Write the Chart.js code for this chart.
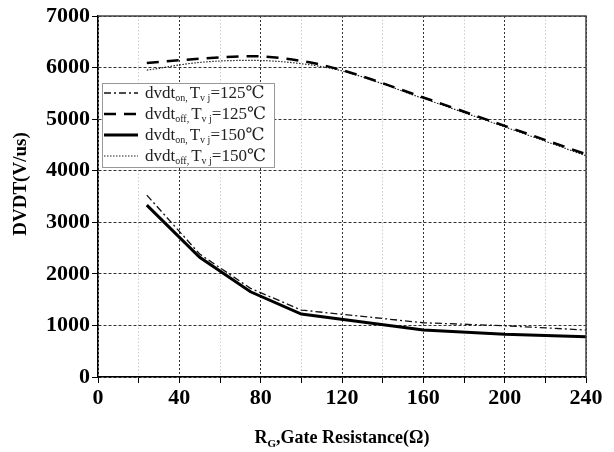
<!DOCTYPE html>
<html>
<head>
<meta charset="utf-8">
<script src="https://cdn.jsdelivr.net/npm/chart.js@4"></script>
<style>
  html, body { margin: 0; padding: 0; background: #fff; }
  #wrap { width: 614px; height: 452px; }
</style>
</head>
<body>
<div id="wrap"><canvas id="chart" width="614" height="452"></canvas></div>
<script>
// Gate resistance (ohm)
const rgTop = [24, 50, 75, 100, 120, 160, 200, 240];
const rgBottom = [24, 50, 75, 100, 160, 200, 240];

// dv/dt values (V/us)
const dvdtOff125 = [6090, 6170, 6220, 6130, 5950, 5420, 4870, 4320];
const dvdtOff150 = [5950, 6100, 6140, 6075, 5935, 5400, 4850, 4290];
const dvdtOn125 = [3527, 2384, 1719, 1298, 1052, 994, 911];
const dvdtOn150 = [3333, 2320, 1653, 1221, 911, 827, 781];

const xTicks = [0, 40, 80, 120, 160, 200, 240];
const yTicks = [0, 1000, 2000, 3000, 4000, 5000, 6000, 7000];

const serif = '"Liberation Serif", "DejaVu Serif", serif';

const pts = (xs, ys) => xs.map((x, i) => ({ x: x, y: ys[i] }));

const legendRows = [
    { sub: 'on,', temp: '125', ds: 0 },
    { sub: 'off,', temp: '125', ds: 1 },
    { sub: 'on,', temp: '150', ds: 2 },
    { sub: 'off,', temp: '150', ds: 3 },
];

const extras = {
    id: 'extras',
    afterDraw(chart) {
        const ctx = chart.ctx;
        const a = chart.chartArea;
        ctx.save();
        // top / right frame
        ctx.strokeStyle = '#444';
        ctx.lineWidth = 1.5;
        ctx.beginPath();
        ctx.moveTo(a.left, a.top);
        ctx.lineTo(a.right, a.top);
        ctx.lineTo(a.right, a.bottom);
        ctx.stroke();

        // legend box
        const bx = 102, by = 83, bw = 172, bh = 84;
        ctx.fillStyle = '#fff';
        ctx.fillRect(bx, by, bw, bh);
        ctx.strokeStyle = '#999';
        ctx.lineWidth = 1;
        ctx.strokeRect(bx + 0.5, by + 0.5, bw, bh);

        legendRows.forEach((row, i) => {
            const ds = chart.data.datasets[row.ds];
            const y = by + 10 + i * 21;
            ctx.save();
            ctx.strokeStyle = ds.borderColor;
            ctx.lineWidth = ds.borderWidth;
            ctx.setLineDash(ds.borderDash || []);
            ctx.beginPath();
            ctx.moveTo(bx + 2, y);
            ctx.lineTo(bx + 36, y);
            ctx.stroke();
            ctx.restore();

            ctx.fillStyle = '#222';
            ctx.textBaseline = 'alphabetic';
            ctx.textAlign = 'left';
            let x = bx + 43;
            const base = y + 5;
            ctx.font = '17px ' + serif;
            ctx.fillText('dvdt', x, base);
            x += ctx.measureText('dvdt').width;
            ctx.font = '10px ' + serif;
            ctx.fillText(row.sub, x, base + 3);
            x += ctx.measureText(row.sub).width + 2;
            ctx.font = '17px ' + serif;
            ctx.fillText('T', x, base);
            x += ctx.measureText('T').width;
            ctx.font = '10px ' + serif;
            ctx.fillText('v j', x, base + 3);
            x += ctx.measureText('v j').width;
            ctx.font = '17px ' + serif;
            ctx.fillText('=' + row.temp + '℃', x, base);
        });

        // y title
        ctx.fillStyle = '#000';
        ctx.font = 'bold 19px ' + serif;
        ctx.save();
        ctx.translate(21, 184);
        ctx.rotate(-Math.PI / 2);
        ctx.textAlign = 'center';
        ctx.textBaseline = 'middle';
        ctx.fillText('DVDT(V/us)', 0, 0);
        ctx.restore();

        // x title with subscript
        const cx = (a.left + a.right) / 2;
        const ty = 443;
        ctx.font = 'bold 18px ' + serif;
        const p1 = 'R', p3 = ',Gate Resistance(Ω)';
        const w1 = ctx.measureText(p1).width;
        const w3 = ctx.measureText(p3).width;
        ctx.font = 'bold 11px ' + serif;
        const w2 = ctx.measureText('G').width;
        let x = cx - (w1 + w2 + w3) / 2;
        ctx.textAlign = 'left';
        ctx.textBaseline = 'alphabetic';
        ctx.font = 'bold 18px ' + serif;
        ctx.fillText(p1, x, ty);
        x += w1;
        ctx.font = 'bold 11px ' + serif;
        ctx.fillText('G', x, ty + 4);
        x += w2;
        ctx.font = 'bold 18px ' + serif;
        ctx.fillText(p3, x, ty);
        ctx.restore();
    }
};

new Chart(document.getElementById('chart'), {
    type: 'line',
    data: {
        datasets: [
            {
                label: 'dvdt on, Tvj=125℃',
                data: pts(rgBottom, dvdtOn125),
                borderColor: '#111',
                borderWidth: 1.3,
                borderDash: [7, 3, 2, 3],
                tension: 0,
            },
            {
                label: 'dvdt off, Tvj=125℃',
                data: pts(rgTop, dvdtOff125),
                borderColor: '#000',
                borderWidth: 2.5,
                borderDash: [12, 8],
                cubicInterpolationMode: 'monotone',
            },
            {
                label: 'dvdt on, Tvj=150℃',
                data: pts(rgBottom, dvdtOn150),
                borderColor: '#000',
                borderWidth: 3,
                tension: 0,
            },
            {
                label: 'dvdt off, Tvj=150℃',
                data: pts(rgTop, dvdtOff150),
                borderColor: '#222',
                borderWidth: 1.2,
                borderDash: [1.5, 1.5],
                cubicInterpolationMode: 'monotone',
            },
        ],
    },
    options: {
        responsive: false,
        animation: false,
        layout: { padding: { left: 0, top: 16, right: 28, bottom: 0 } },
        elements: { point: { radius: 0 } },
        plugins: {
            legend: { display: false },
            tooltip: { enabled: false },
        },
        scales: {
            x: {
                type: 'linear',
                min: 0,
                max: 240,
                afterFit: s => { s.height = 75; },
                afterBuildTicks: s => {
                    const t = [];
                    for (let v = 0; v <= 240; v += 20) t.push({ value: v });
                    s.ticks = t;
                },
                ticks: {
                    autoSkip: false,
                    maxRotation: 0,
                    padding: 2,
                    color: '#000',
                    font: { family: serif, size: 22, weight: 'bold' },
                    callback: v => xTicks.includes(v) ? String(v) : '',
                },
                grid: {
                    color: c => (c.tick && c.tick.value % 40 === 0) ? '#333' : '#ccc',
                    lineWidth: 1,
                    tickLength: 6,
                    tickColor: '#000',
                },
                border: {
                    color: '#000',
                    width: 1.5,
                    dash: c => (c.tick && c.tick.value % 40 === 0) ? [2, 2] : [1.5, 2],
                },
            },
            y: {
                min: 0,
                max: 7000,
                afterFit: s => { s.width = 98; },
                afterBuildTicks: s => { s.ticks = yTicks.map(v => ({ value: v })); },
                ticks: {
                    padding: 2,
                    color: '#000',
                    font: { family: serif, size: 22, weight: 'bold' },
                    callback: v => String(v),
                },
                grid: {
                    color: '#333',
                    lineWidth: 1,
                    tickLength: 6,
                    tickColor: '#000',
                },
                border: {
                    color: '#000',
                    width: 1.5,
                    dash: [3, 2],
                },
            },
        },
    },
    plugins: [extras],
});
</script>
</body>
</html>
